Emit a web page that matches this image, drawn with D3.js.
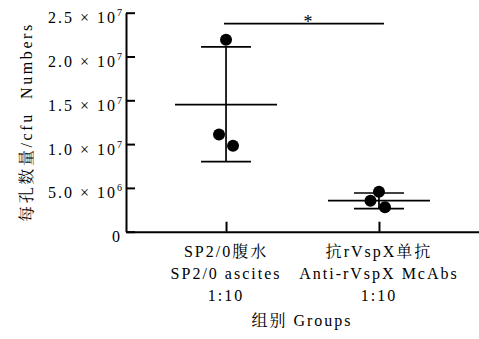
<!DOCTYPE html>
<html>
<head>
<meta charset="utf-8">
<title>每孔数量 cfu</title>
<script src="https://cdn.jsdelivr.net/npm/d3@7/dist/d3.min.js"></script>
<style>
  body { margin: 0; background: #fff; }
</style>
</head>
<body>
<script>
// data
var groups = ["SP2/0腹水", "抗rVspX单抗"];
var groupLabels = [
  ["SP2/0腹水", "SP2/0 ascites", "1:10"],
  ["抗rVspX单抗", "Anti-rVspX McAbs", "1:10"]
];
var pointsSP2 = [2.19e7, 1.11e7, 0.98e7];
var pointsAnti = [4.57e6, 3.54e6, 2.79e6];
var means = [1.45e7, 3.54e6];
var errHigh = [2.11e7, 4.42e6];
var errLow = [0.80e7, 2.63e6];
var yTicks = [0, 5e6, 1e7, 1.5e7, 2e7, 2.5e7];
var yTickLabels = [["0", ""], ["5.0 × 10", "6"], ["1.0 × 10", "7"], ["1.5 × 10", "7"], ["2.0 × 10", "7"], ["2.5 × 10", "7"]];
var yTitle = "每孔数量/cfu  Numbers";
var xTitle = "组别 Groups";
var sigMark = "*";

var w = 479, h = 339;
var padLeft = 126, padRight = 479, padTop = 12.7, padBottom = 231.7;

var svg = d3.select("body").append("svg")
  .attr("width", w)
  .attr("height", h);

// put latin runs in Liberation Serif and chinese runs in Noto Serif CJK
function addText(x, y, str, size, ls) {
  var t = svg.append("text")
    .attr("x", x)
    .attr("y", y)
    .attr("font-family", "Liberation Serif")
    .attr("font-size", size)
    .attr("letter-spacing", ls)
    .attr("fill", "#000")
    .style("white-space", "pre");
  str.split(/([\u4e00-\u9fff]+)/).forEach(function(part) {
    if (!part) return;
    t.append("tspan")
      .attr("font-family", /[\u4e00-\u9fff]/.test(part) ? "Noto Serif CJK SC" : "Liberation Serif")
      .text(part);
  });
  return t;
}

var xScale = d3.scalePoint()
  .domain(groups)
  .range([padLeft, padRight])
  .padding(0.654);

var yScale = d3.scaleLinear()
  .domain([0, 2.5e7])
  .range([padBottom, padTop]);

//Y axis, ticks pointing in
var yAxis = d3.axisLeft(yScale)
  .tickValues(yTicks)
  .tickSize(-9)
  .tickSizeOuter(0)
  .tickFormat("");

svg.append("g")
  .attr("transform", "translate(" + padLeft + ",0)")
  .call(yAxis);

//X axis
var xAxis = d3.axisBottom(xScale)
  .tickSize(-10)
  .tickSizeOuter(0)
  .tickFormat("");

svg.append("g")
  .attr("transform", "translate(0," + padBottom + ")")
  .call(xAxis);

svg.selectAll(".domain, .tick line")
  .attr("stroke", "#000")
  .attr("stroke-width", 2);

//y tick labels with superscript
yTicks.forEach(function(v, i) {
  var t = addText(122, yScale(v) + 10.5, yTickLabels[i][0], 16, 2)
    .attr("text-anchor", "end");
  if (yTickLabels[i][1]) {
    t.append("tspan")
      .attr("dy", -7)
      .attr("font-size", 10)
      .attr("letter-spacing", 0)
      .text(yTickLabels[i][1]);
  }
});

//x category labels
groupLabels.forEach(function(lines, i) {
  lines.forEach(function(s, j) {
    addText(xScale(groups[i]), 257 + j * 22, s, 16, 2)
      .attr("text-anchor", "middle");
  });
});

//axis titles
addText(302, 326, xTitle, 16, 2)
  .attr("text-anchor", "middle");

addText(0, 0, yTitle, 16, 2.6)
  .attr("transform", "translate(32,122) rotate(-90)")
  .attr("text-anchor", "middle");

//mean and error bars
var barData = groups.map(function(g, i) {
  return {g: g, mean: means[i], hi: errHigh[i], lo: errLow[i]};
});

var bars = svg.append("g")
  .attr("stroke", "#000")
  .attr("stroke-width", 1.7);

bars.selectAll(".v").data(barData).enter().append("line")
  .attr("x1", function(d) { return xScale(d.g); })
  .attr("x2", function(d) { return xScale(d.g); })
  .attr("y1", function(d) { return yScale(d.hi); })
  .attr("y2", function(d) { return yScale(d.lo); });

bars.selectAll(".m").data(barData).enter().append("line")
  .attr("x1", function(d) { return xScale(d.g) - 51; })
  .attr("x2", function(d) { return xScale(d.g) + 51; })
  .attr("y1", function(d) { return yScale(d.mean); })
  .attr("y2", function(d) { return yScale(d.mean); });

bars.selectAll(".hi").data(barData).enter().append("line")
  .attr("x1", function(d) { return xScale(d.g) - 25; })
  .attr("x2", function(d) { return xScale(d.g) + 25; })
  .attr("y1", function(d) { return yScale(d.hi); })
  .attr("y2", function(d) { return yScale(d.hi); });

bars.selectAll(".lo").data(barData).enter().append("line")
  .attr("x1", function(d) { return xScale(d.g) - 25; })
  .attr("x2", function(d) { return xScale(d.g) + 25; })
  .attr("y1", function(d) { return yScale(d.lo); })
  .attr("y2", function(d) { return yScale(d.lo); });

//points, small sideways jitter so they don't overlap
var jitter = [[0, -7, 7], [0, -8.5, 6]];
var pts = [];
[pointsSP2, pointsAnti].forEach(function(arr, i) {
  arr.forEach(function(v, j) {
    pts.push({g: groups[i], v: v, dx: jitter[i][j]});
  });
});

svg.selectAll("circle")
  .data(pts)
  .enter()
  .append("circle")
  .attr("cx", function(d) { return xScale(d.g) + d.dx; })
  .attr("cy", function(d) { return yScale(d.v); })
  .attr("r", 6)
  .attr("fill", "#000");

//significance bracket
var x1 = xScale(groups[0]) - 2, x2 = xScale(groups[1]) + 5;
svg.append("line")
  .attr("x1", x1).attr("x2", x2)
  .attr("y1", 23.7).attr("y2", 23.7)
  .attr("stroke", "#000")
  .attr("stroke-width", 1.7);

addText((x1 + x2) / 2 + 4, 28, sigMark, 18, 0)
  .attr("text-anchor", "middle");
</script>
</body>
</html>
